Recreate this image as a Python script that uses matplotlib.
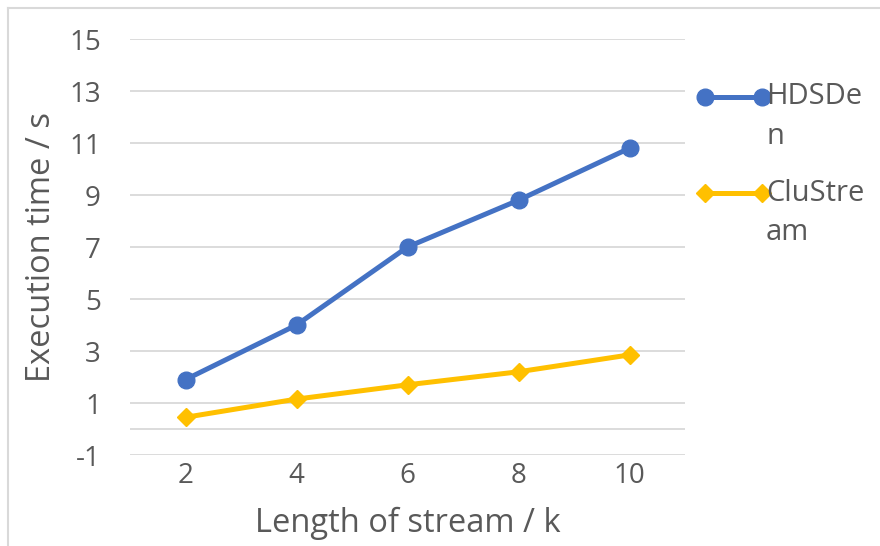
import numpy as np
import matplotlib
matplotlib.use('Agg')
import matplotlib.pyplot as plt
from matplotlib.lines import Line2D

plt.rcParams['font.family'] = ['Open Sans', 'DejaVu Sans']
plt.rcParams['axes.unicode_minus'] = False

lengths = ['2', '4', '6', '8', '10']
hdsden = [1.9, 4.0, 7.0, 8.8, 10.8]
clustream = [0.45, 1.15, 1.7, 2.2, 2.85]
yticks = [-1, 1, 3, 5, 7, 9, 11, 13, 15]

blue = '#4472C4'
gold = '#FFC000'
grey = '#D9D9D9'
txt = '#595959'

fig = plt.figure(figsize=(8.8, 5.46), dpi=100)
ax = fig.add_axes([130/880, 1-455/546, 555/880, 416/546])

x = np.arange(len(lengths))
ax.plot(x, hdsden, color=blue, lw=3.6, marker='o', ms=12, zorder=3)
ax.plot(x, clustream, color=gold, lw=3.6, marker='D', ms=9.5, zorder=3)

ax.set_xlim(-0.5, len(lengths)-0.5)
ax.set_ylim(-1, 15)
ax.set_yticks(yticks)
ax.set_xticks(x)
ax.set_xticklabels(lengths)
ax.grid(axis='y', color=grey, lw=1.3)
ax.axhline(0, color=grey, lw=1.3)
ax.set_axisbelow(True)
for s in ax.spines.values():
    s.set_visible(False)
ax.tick_params(length=0, labelsize=20, colors=txt)
ax.tick_params(axis='y', pad=21)
ax.tick_params(axis='x', pad=5)
ax.set_xlabel('Length of stream / k', fontsize=23.5, color=txt, labelpad=12)
ax.set_ylabel('Execution time / s', fontsize=23.5, color=txt, labelpad=8)

# legend drawn by hand so the wrapped labels sit like the original
legend_items = [(blue, 'o', 12, ['HDSDe', 'n'], 97), (gold, 'D', 9.5, ['CluStre', 'am'], 193)]
for col, mk, ms, lines, yy in legend_items:
    yf = 1 - yy/546
    fig.add_artist(Line2D([705/880, 762/880], [yf, yf], color=col, lw=3.6,
                          marker=mk, ms=ms, transform=fig.transFigure))
    for i, t in enumerate(lines):
        fig.text(766/880, 1 - (yy + 39*i)/546, t, fontsize=21, color=txt,
                 va='center', transform=fig.transFigure)

# chart frame (only top and left edges are visible)
fig.add_artist(Line2D([8/880, 1], [1-8/546, 1-8/546], color=grey, lw=1.5))
fig.add_artist(Line2D([8/880, 8/880], [0, 1-8/546], color=grey, lw=1.5))

fig.savefig('out.png', dpi=100)
